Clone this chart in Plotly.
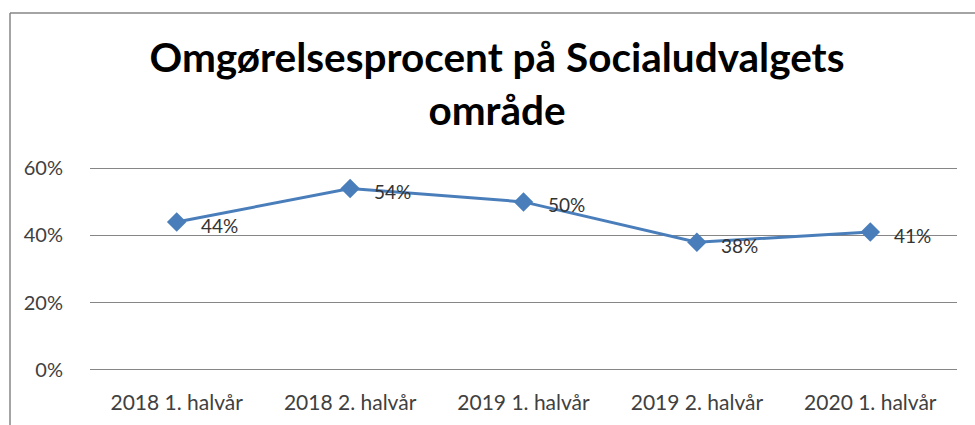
import plotly.graph_objects as go

categories = ["2018 1. halvår", "2018 2. halvår", "2019 1. halvår", "2019 2. halvår", "2020 1. halvår"]
values = [0.44, 0.54, 0.50, 0.38, 0.41]
labels = ["44%", "54%", "50%", "38%", "41%"]
y_ticks = [0, 0.2, 0.4, 0.6]
y_tick_labels = ["0%", "20%", "40%", "60%"]
title_text = "Omgørelsesprocent på Socialudvalgets<br>område"

W, H = 975, 425
L, R, T, B = 90, 18, 165, 52
LINE_COLOR = "#4A7EBB"

fig = go.Figure()
fig.add_trace(go.Scatter(
    x=list(range(len(categories))), y=values,
    mode="lines+markers",
    line=dict(color=LINE_COLOR, width=3),
    marker=dict(symbol="diamond", size=15, color=LINE_COLOR),
    cliponaxis=False,
    hoverinfo="skip",
))

annotations = [
    dict(x=i, y=v, xref="x", yref="y", text=t, showarrow=False,
         xanchor="left", yanchor="middle", xshift=22, yshift=-3,
         font=dict(family="Lato", size=19, color="#333333"))
    for i, (v, t) in enumerate(zip(values, labels))
]

fig.update_layout(
    width=W, height=H,
    margin=dict(l=L, r=R, t=T, b=B, autoexpand=False),
    paper_bgcolor="white", plot_bgcolor="white",
    showlegend=False,
    font=dict(family="Lato", color="#404040"),
    title=dict(
        text=title_text,
        font=dict(family="Lato", size=40.5, color="#000000", weight="bold"),
        x=497 / W, xref="container", xanchor="center",
        y=1 - 72 / H, yref="container", yanchor="middle",
    ),
    xaxis=dict(
        range=[-0.5, len(categories) - 0.5],
        tickmode="array", tickvals=list(range(len(categories))), ticktext=categories,
        showgrid=False, zeroline=False, showline=False, automargin=False,
        tickfont=dict(family="Lato", size=21, color="#404040"),
        ticks="outside", ticklen=11, tickcolor="rgba(0,0,0,0)",
    ),
    yaxis=dict(
        range=[-0.01, 0.61],
        tickmode="array", tickvals=y_ticks, ticktext=y_tick_labels,
        showgrid=True, gridcolor="#868686", gridwidth=1,
        zeroline=False, showline=False, automargin=False,
        tickfont=dict(family="Lato", size=20, color="#404040"),
        ticks="outside", ticklen=22, tickcolor="rgba(0,0,0,0)",
    ),
    annotations=annotations,
    shapes=[
        dict(type="line", xref="paper", yref="paper",
             x0=(10 - L) / (W - L - R), x1=(W + 5 - L) / (W - L - R),
             y0=1 + (T - 13) / (H - T - B), y1=1 + (T - 13) / (H - T - B),
             line=dict(color="#868686", width=1.5)),
        dict(type="line", xref="paper", yref="paper",
             x0=(10 - L) / (W - L - R), x1=(10 - L) / (W - L - R),
             y0=1 + (T - 13) / (H - T - B), y1=-(B + 5) / (H - T - B),
             line=dict(color="#868686", width=1.5)),
    ],
)

fig.write_html("out.html")
